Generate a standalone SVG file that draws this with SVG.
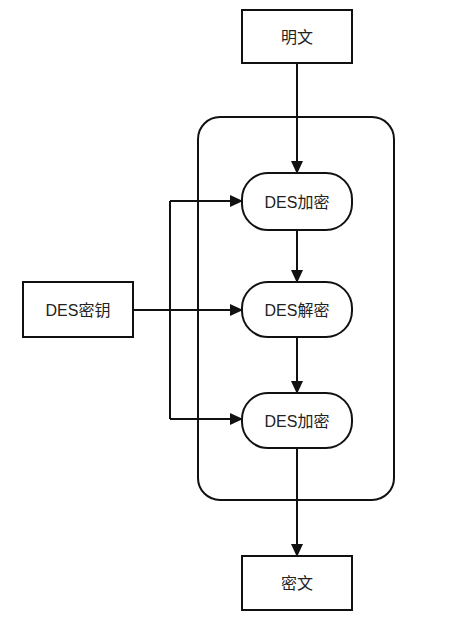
<svg xmlns="http://www.w3.org/2000/svg" width="468" height="618" viewBox="0 0 468 618">
<style>
.box{fill:#fff;stroke:#111;stroke-width:2}
.ln{fill:none;stroke:#111;stroke-width:2}
text{font-family:"Liberation Sans","Noto Sans CJK SC",sans-serif;font-size:16px;fill:#222;text-anchor:middle;dominant-baseline:central}
</style>
<defs>
<marker id="ah" markerWidth="13" markerHeight="12" refX="12" refY="6" orient="auto" markerUnits="userSpaceOnUse">
<path d="M0,0 L13,6 L0,12 z" fill="#111"/>
</marker>
</defs>
<rect width="468" height="618" fill="#fff"/>
<g id="container"><rect class="box" x="198" y="117" width="196" height="383" rx="22"/></g>
<g id="connectors">
<path class="ln" d="M297,63 V173" marker-end="url(#ah)"/>
<path class="ln" d="M297,230 V282" marker-end="url(#ah)"/>
<path class="ln" d="M297,337 V393" marker-end="url(#ah)"/>
<path class="ln" d="M297,448 V556" marker-end="url(#ah)"/>
<path class="ln" d="M133,310 H242" marker-end="url(#ah)"/>
<path class="ln" d="M170,201 V419"/>
<path class="ln" d="M170,201 H242" marker-end="url(#ah)"/>
<path class="ln" d="M170,419 H242" marker-end="url(#ah)"/>
</g>
<g id="plain"><rect class="box" x="242" y="10" width="110" height="53"/><text x="297" y="37">明文</text></g>
<g id="enc1"><rect class="box" x="242" y="173" width="110" height="57" rx="26"/><text x="297" y="202">DES加密</text></g>
<g id="dec"><rect class="box" x="242" y="282" width="110" height="55" rx="26"/><text x="297" y="310">DES解密</text></g>
<g id="enc2"><rect class="box" x="242" y="393" width="110" height="55" rx="26"/><text x="297" y="421">DES加密</text></g>
<g id="cipher"><rect class="box" x="242" y="556" width="110" height="54"/><text x="297" y="583">密文</text></g>
<g id="key"><rect class="box" x="23" y="282" width="110" height="55"/><text x="78" y="310">DES密钥</text></g>
</svg>
